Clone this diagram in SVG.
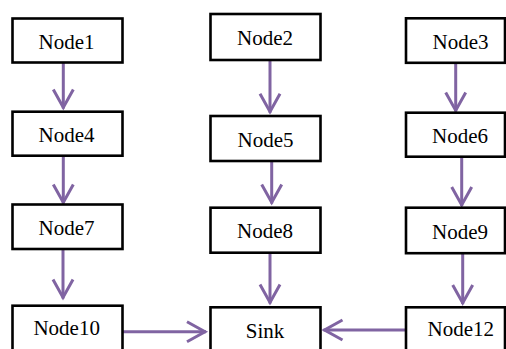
<svg xmlns="http://www.w3.org/2000/svg" width="506" height="349" viewBox="0 0 506 349">
<style>
.box{fill:#fff;stroke:#000;stroke-width:2.6}
.lbl{font-family:'Liberation Serif','Times New Roman',serif;font-size:21px;fill:#000;text-anchor:middle}
.arr{stroke:#8064a2;stroke-width:3;fill:none;marker-end:url(#head)}
</style>
<defs>
<marker id="head" markerUnits="userSpaceOnUse" markerWidth="24" markerHeight="26" refX="22" refY="12" orient="auto" viewBox="0 0 24 24" overflow="visible">
<path d="M3,2 L21,12 L3,22" fill="none" stroke="#8064a2" stroke-width="3" stroke-linejoin="miter"/>
</marker>
</defs>
<rect width="506" height="349" fill="#fff"/>
<g id="connectors">
<line class="arr" x1="63.3" y1="62.7" x2="63.3" y2="108.5"/>
<line class="arr" x1="63.3" y1="155.7" x2="63.3" y2="203.5"/>
<line class="arr" x1="63" y1="249" x2="63" y2="298.5"/>
<line class="arr" x1="270" y1="60" x2="270" y2="112.7"/>
<line class="arr" x1="271.7" y1="161" x2="271.7" y2="203.5"/>
<line class="arr" x1="270" y1="252.7" x2="270" y2="303.5"/>
<line class="arr" x1="455.7" y1="62.7" x2="455.7" y2="111.5"/>
<line class="arr" x1="461.7" y1="156.7" x2="461.7" y2="206"/>
<line class="arr" x1="462.7" y1="253.3" x2="462.7" y2="304"/>
<line class="arr" x1="122.5" y1="331.7" x2="206" y2="331.7"/>
<line class="arr" x1="406" y1="330" x2="323.5" y2="330"/>
</g>
<g id="node1"><rect class="box" x="12.5" y="18.5" width="110" height="44"/><text class="lbl" x="66.5" y="49.3">Node1</text></g>
<g id="node2"><rect class="box" x="210.5" y="14" width="110" height="46"/><text class="lbl" x="265" y="45">Node2</text></g>
<g id="node3"><rect class="box" x="406" y="18.3" width="99" height="44.5"/><text class="lbl" x="460.5" y="49.3">Node3</text></g>
<g id="node4"><rect class="box" x="12.5" y="111.7" width="110" height="44"/><text class="lbl" x="66.5" y="141.7">Node4</text></g>
<g id="node5"><rect class="box" x="210.5" y="116" width="110" height="45"/><text class="lbl" x="265.5" y="146.7">Node5</text></g>
<g id="node6"><rect class="box" x="406" y="112.7" width="99" height="44"/><text class="lbl" x="460" y="142.7">Node6</text></g>
<g id="node7"><rect class="box" x="12.5" y="204.5" width="110" height="44.5"/><text class="lbl" x="66.5" y="234.5">Node7</text></g>
<g id="node8"><rect class="box" x="210.5" y="207.7" width="110" height="45"/><text class="lbl" x="265" y="238.2">Node8</text></g>
<g id="node9"><rect class="box" x="406" y="207.7" width="99" height="45.5"/><text class="lbl" x="460" y="238.5">Node9</text></g>
<g id="node10"><rect class="box" x="12.5" y="305.7" width="110" height="46"/><text class="lbl" x="66.7" y="335">Node10</text></g>
<g id="sink"><rect class="box" x="210.5" y="307.3" width="110" height="46"/><text class="lbl" x="265" y="337.7">Sink</text></g>
<g id="node12"><rect class="box" x="406" y="307.3" width="99" height="46"/><text class="lbl" x="460.8" y="336">Node12</text></g>
</svg>
